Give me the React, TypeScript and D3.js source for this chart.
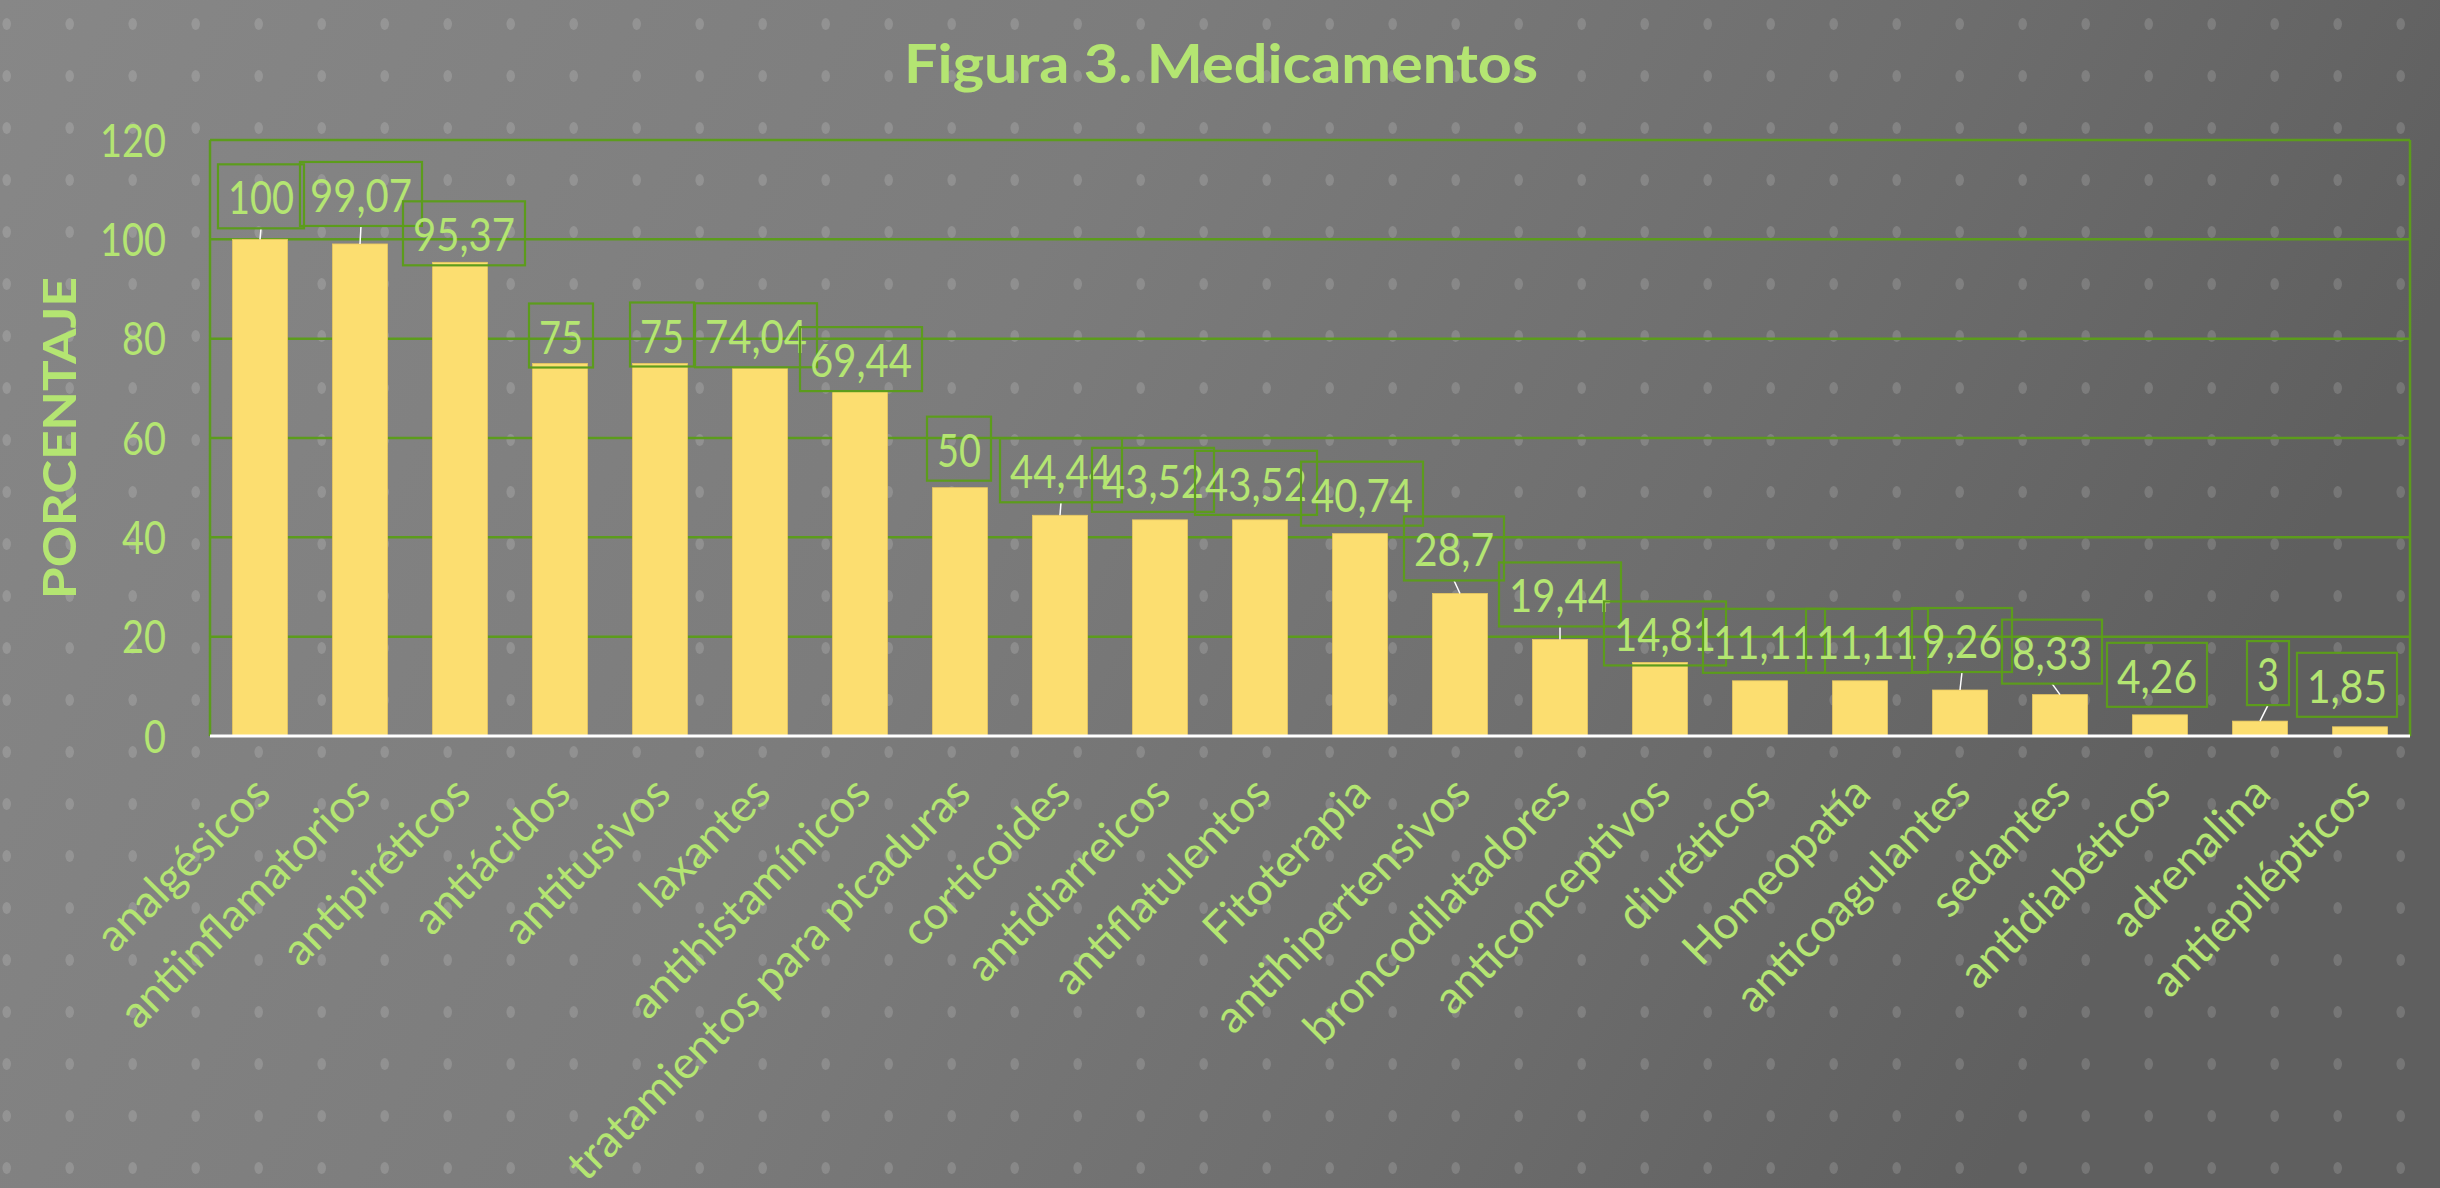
import React from "react";
import * as d3 from "d3";

const categories = [
  "analgésicos", "antiinflamatorios", "antipiréticos", "antiácidos", "antitusivos",
  "laxantes", "antihistamínicos", "tratamientos para picaduras", "corticoides",
  "antidiarreicos", "antiflatulentos", "Fitoterapia", "antihipertensivos",
  "broncodilatadores", "anticonceptivos", "diuréticos", "Homeopatía",
  "anticoagulantes", "sedantes", "antidiabéticos", "adrenalina", "antiepilépticos",
];
const values = [
  100, 99.07, 95.37, 75, 75, 74.04, 69.44, 50, 44.44, 43.52, 43.52, 40.74, 28.7,
  19.44, 14.81, 11.11, 11.11, 9.26, 8.33, 4.26, 3, 1.85,
];
const yTicks = [0, 20, 40, 60, 80, 100, 120];
const title = "Figura 3. Medicamentos";
const yTitle = "PORCENTAJE";

// manual nudges of the data-label boxes (layout only)
const labelNudgeX = [1, 1, 4, 1, 2, -4, 1, -1, 1, -7, -4, 2, -6, 0, 5, 4, 7, 2, -8, -3, 8, -13];
const labelNudgeY = [-11, -18, 3, 4, 3, -1, 0, -7, -13, -8, -5, -8, -13, -13, 3, -8, -8, -18, -11, -8, -16, -10];

const W = 2440;
const H = 1188;
const M = { left: 210, right: 2410, top: 140, bottom: 736 };

const TEXT_GREEN = "#b4e572";
const LINE_GREEN = "#5c9c1c";
const BAR = "#fcde70";
const FONT = "Lato, 'Open Sans', sans-serif";

const fmt = (v: number) => String(v).replace(".", ",");
const numWidth = (s: string) =>
  s.split("").reduce((a, ch) => a + (ch === "," ? 14 : 22), 0);

export default function App() {
  const x = d3
    .scaleBand<string>()
    .domain(categories)
    .range([M.left, M.right])
    .paddingInner(0.45)
    .paddingOuter(0.225);
  const y = d3.scaleLinear().domain([0, 120]).range([M.bottom, M.top]);

  const dotXs = d3.range(0, 39).map((i) => 6.7 + i * 63);
  const dotYs = d3.range(0, 23).map((j) => 24 + j * 52);

  return (
    <div style={{ position: "fixed", left: 0, top: 0, width: W, height: H }}>
      <svg width={W} height={H} style={{ display: "block" }}>
        <defs>
          <linearGradient id="bg" x1="0" y1="0" x2="1" y2="0.25">
            <stop offset="0" stopColor="#878787" />
            <stop offset="0.45" stopColor="#7c7c7c" />
            <stop offset="0.75" stopColor="#6e6e6e" />
            <stop offset="1" stopColor="#5f5f5f" />
          </linearGradient>
        </defs>
        <rect x={0} y={0} width={W} height={H} fill="url(#bg)" />
        <g fill="#ffffff" fillOpacity={0.15}>
          {dotYs.map((dy) =>
            dotXs.map((dx) => (
              <ellipse key={`${dx}-${dy}`} cx={dx} cy={dy} rx={4.3} ry={6} />
            ))
          )}
        </g>

        {/* title */}
        <text
          x={1221}
          y={83}
          textAnchor="middle"
          fontFamily={FONT}
          fontWeight={700}
          fontSize={54}
          fill={TEXT_GREEN}
          textLength={634}
          lengthAdjust="spacingAndGlyphs"
        >
          {title}
        </text>

        {/* y axis title */}
        <text
          transform={`translate(76,${(M.top + M.bottom) / 2}) rotate(-90)`}
          textAnchor="middle"
          fontFamily={FONT}
          fontWeight={700}
          fontSize={46}
          fill={TEXT_GREEN}
          textLength={322}
          lengthAdjust="spacingAndGlyphs"
        >
          {yTitle}
        </text>

        {/* gridlines */}
        {yTicks
          .filter((t) => t > 0)
          .map((t) => (
            <line
              key={t}
              x1={M.left}
              x2={M.right}
              y1={y(t)}
              y2={y(t)}
              stroke={LINE_GREEN}
              strokeWidth={2.5}
            />
          ))}
        <line x1={M.left} x2={M.left} y1={M.top} y2={M.bottom} stroke={LINE_GREEN} strokeWidth={2.5} />
        <line x1={M.right} x2={M.right} y1={M.top} y2={M.bottom} stroke={LINE_GREEN} strokeWidth={2.5} />

        {/* y tick labels */}
        {yTicks.map((t) => (
          <text
            key={t}
            x={166}
            y={y(t) + 16.5}
            textAnchor="end"
            fontFamily={FONT}
            fontSize={46}
            fill={TEXT_GREEN}
            textLength={numWidth(String(t))}
            lengthAdjust="spacingAndGlyphs"
          >
            {t}
          </text>
        ))}

        {/* bars */}
        {categories.map((c, i) => (
          <rect
            key={c}
            x={x(c)!}
            y={y(values[i])}
            width={x.bandwidth()}
            height={M.bottom - y(values[i])}
            fill={BAR}
            stroke="#e8c860"
            strokeWidth={0.8}
          />
        ))}

        {/* baseline */}
        <line x1={M.left} x2={M.right} y1={M.bottom} y2={M.bottom} stroke="#ffffff" strokeWidth={3} />

        {/* data labels */}
        {categories.map((c, i) => {
          const cx = x(c)! + x.bandwidth() / 2;
          const top = y(values[i]);
          const s = fmt(values[i]);
          const tw = numWidth(s);
          const bw = tw + 20;
          const bh = 64;
          const bcx = cx + labelNudgeX[i];
          const bottom = top + labelNudgeY[i];
          const gap = top - bottom;
          return (
            <g key={c}>
              {gap > 10.5 && (
                <line x1={bcx} y1={bottom} x2={cx} y2={top} stroke="#ffffff" strokeWidth={1.5} />
              )}
              <rect
                x={bcx - bw / 2}
                y={bottom - bh}
                width={bw}
                height={bh}
                fill="none"
                stroke={LINE_GREEN}
                strokeWidth={2.2}
              />
              <text
                x={bcx}
                y={bottom - 14}
                textAnchor="middle"
                fontFamily={FONT}
                fontSize={47}
                fill={TEXT_GREEN}
                textLength={tw}
                lengthAdjust="spacingAndGlyphs"
              >
                {s}
              </text>
            </g>
          );
        })}

        {/* category labels */}
        {categories.map((c) => {
          const cx = x(c)! + x.bandwidth() / 2;
          return (
            <text
              key={c}
              transform={`translate(${cx + 13},${M.bottom + 60}) rotate(-45)`}
              textAnchor="end"
              fontFamily={FONT}
              fontSize={45}
              fill={TEXT_GREEN}
            >
              {c}
            </text>
          );
        })}
      </svg>
    </div>
  );
}
